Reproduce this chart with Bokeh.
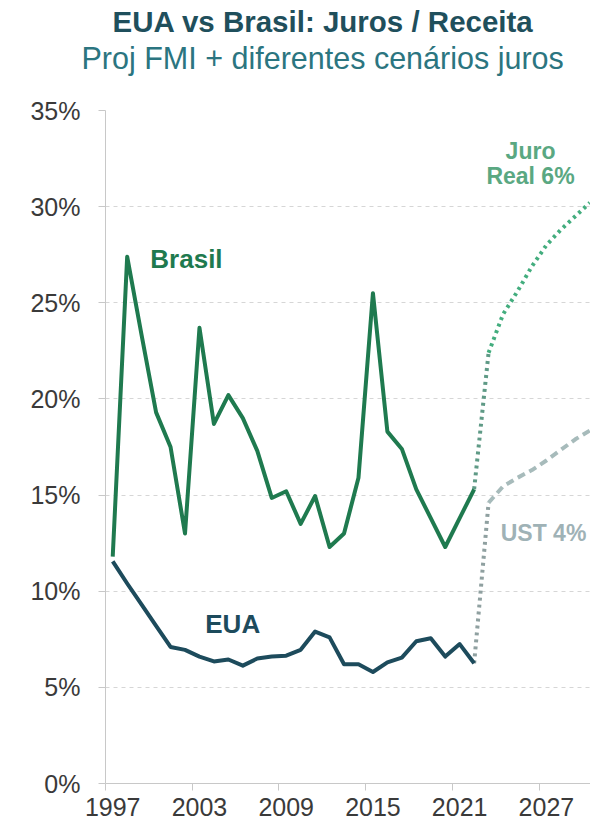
from bokeh.plotting import figure
from bokeh.models import FixedTicker, PrintfTickFormatter, Title, Label, Range1d
from bokeh.embed import file_html
from bokeh.resources import INLINE

# ---- data ----
years = list(range(1997, 2023))
brasil = [11.8, 27.4, 23.3, 19.3, 17.5, 13.0, 23.7, 18.7, 20.2, 19.0, 17.3, 14.85, 15.2,
          13.5, 14.95, 12.3, 13.0, 15.9, 25.5, 18.3, 17.4, 15.3, 13.8, 12.3, 13.8, 15.3]
eua = [11.55, 10.4, 9.3, 8.2, 7.1, 6.95, 6.6, 6.35, 6.45, 6.13, 6.5, 6.6, 6.65,
       6.95, 7.9, 7.6, 6.2, 6.2, 5.8, 6.3, 6.55, 7.4, 7.55, 6.6, 7.25, 6.25]
proj_years = list(range(2022, 2031))
juro_real_6 = [15.3, 22.4, 24.4, 25.6, 26.9, 28.0, 28.8, 29.5, 30.2]
ust_4 = [6.25, 14.6, 15.45, 15.9, 16.3, 16.8, 17.35, 17.9, 18.35]
y_ticks = [0, 5, 10, 15, 20, 25, 30, 35]
x_tick_labels = [1997, 2003, 2009, 2015, 2021, 2027]
title = "EUA vs Brasil: Juros / Receita"
subtitle = "Proj FMI + diferentes cenários juros"

FONT = "Liberation Sans"

p = figure(width=590, height=824, output_backend="svg", toolbar_location=None,
           x_range=Range1d(1996.5, 2030.05), y_range=Range1d(0, 35),
           title_location=None)
p.min_border_left = 105
p.min_border_right = 0
p.min_border_bottom = 41
p.min_border_top = 110
p.outline_line_color = None
p.background_fill_color = "white"
p.border_fill_color = "white"

# header: spacer (closest to plot), subtitle, title
p.add_layout(Title(text=" ", text_font=FONT, text_font_size="30.5px", standoff=0), "above")
p.add_layout(Title(text=subtitle, align="left",
                   text_font=FONT, text_font_size="30.5px", text_font_style="normal",
                   text_color="#2b7580", offset=-24, standoff=0), "above")
p.add_layout(Title(text=title, align="left",
                   text_font=FONT, text_font_size="29.5px", text_font_style="bold",
                   text_color="#1f4f5c", offset=7, standoff=1), "above")

# grid
p.xgrid.visible = False
p.ygrid.ticker = FixedTicker(ticks=y_ticks[1:])
p.ygrid.grid_line_color = "#d6d6d6"
p.ygrid.grid_line_dash = "4 4"

# y axis
p.yaxis.ticker = FixedTicker(ticks=y_ticks)
p.yaxis.formatter = PrintfTickFormatter(format="%d%%")
p.yaxis.major_label_text_font = FONT
p.yaxis.major_label_text_font_size = "25px"
p.yaxis.major_label_text_color = "#3a3a3a"
p.yaxis.axis_line_color = "#c8c8c8"
p.yaxis.major_tick_line_color = "#c8c8c8"
p.yaxis.major_tick_out = 7
p.yaxis.major_tick_in = 0
p.yaxis.minor_tick_line_color = None
p.yaxis.major_label_standoff = 18

# x axis
p.xaxis.ticker = FixedTicker(ticks=x_tick_labels,
                             minor_ticks=[t - 0.5 for t in x_tick_labels])
p.xaxis.major_label_text_font = FONT
p.xaxis.major_label_text_font_size = "25px"
p.xaxis.major_label_text_color = "#3a3a3a"
p.xaxis.axis_line_color = "#c8c8c8"
p.xaxis.major_tick_line_color = None
p.xaxis.major_tick_out = 0
p.xaxis.major_tick_in = 0
p.xaxis.minor_tick_line_color = "#c8c8c8"
p.xaxis.minor_tick_out = 7
p.xaxis.minor_tick_in = 0
p.xaxis.major_label_standoff = 7

# projections
p.line(proj_years[:2], juro_real_6[:2], line_color="#5f9a86", line_width=4,
       line_dash="3 4")
p.line(proj_years[1:], juro_real_6[1:], line_color="#43ad7e", line_width=4,
       line_dash="3 4")
p.line(proj_years[:2], ust_4[:2], line_color="#8fa0a0", line_width=4,
       line_dash="3 4")
p.line(proj_years[1:], ust_4[1:], line_color="#a7bbbb", line_width=4,
       line_dash="8 5")

# history
p.line(years, brasil, line_color="#1f7a4f", line_width=4, line_join="round")
p.line(years, eua, line_color="#1d4b5c", line_width=4, line_join="round")

# labels
def lab(x, y, t, color, size="26px"):
    p.add_layout(Label(x=x, y=y, text=t, text_font=FONT, text_font_size=size,
                       text_font_style="bold", text_color=color,
                       text_align="center", text_baseline="middle"))

lab(2002.1, 27.3, "Brasil", "#1f7a4f")
lab(2005.3, 8.3, "EUA", "#1d4b5c")
lab(2025.9, 32.9, "Juro", "#5aa882", "23px")
lab(2025.9, 31.6, "Real 6%", "#5aa882", "23px")
lab(2026.8, 13.05, "UST 4%", "#9fb2b6", "23px")

open("out.html", "w").write(file_html(p, INLINE))
